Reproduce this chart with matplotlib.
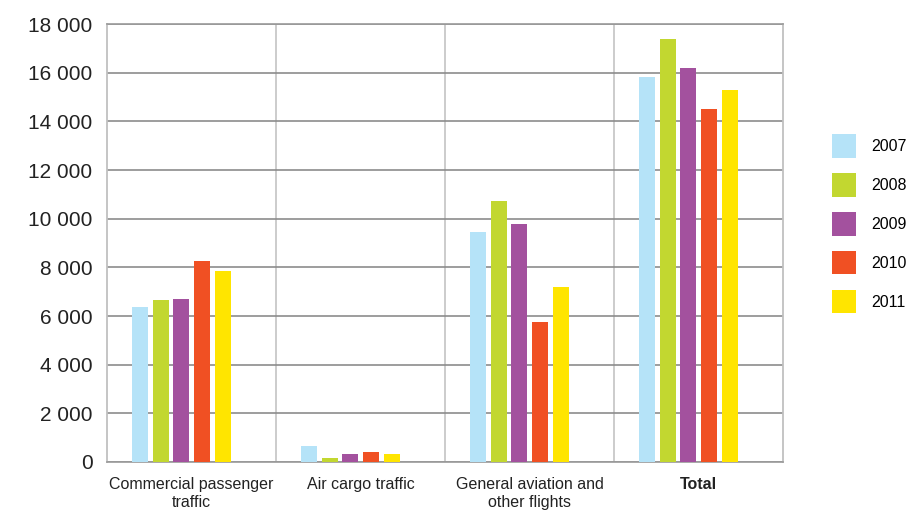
import numpy as np
import matplotlib.pyplot as plt
from matplotlib.ticker import FuncFormatter

plt.rcParams['font.family'] = ['Liberation Sans', 'DejaVu Sans']

# data
categories = ["Commercial passenger\ntraffic", "Air cargo traffic",
              "General aviation and\nother flights", "Total"]
years = ["2007", "2008", "2009", "2010", "2011"]
v2007 = [6380, 640, 9450, 15810]
v2008 = [6650, 150, 10720, 17370]
v2009 = [6690, 310, 9780, 16180]
v2010 = [8260, 400, 5750, 14500]
v2011 = [7840, 310, 7190, 15280]
series = [v2007, v2008, v2009, v2010, v2011]
colors = ["#B5E3F8", "#C2D730", "#A3519E", "#F05023", "#FFE500"]

fig = plt.figure(figsize=(9.06, 5.11), dpi=100)
ax = fig.add_axes([0.1181, 0.0959, 0.7461, 0.857])

x = np.arange(len(categories))
slot = 0.122
width = 0.095
shift = -0.06
for j, (vals, col, yr) in enumerate(zip(series, colors, years)):
    ax.bar(x + shift + (j - 2) * slot, vals, width, color=col, label=yr, zorder=3)

ax.set_xlim(-0.5, 3.5)
ax.set_ylim(0, 18000)
ax.set_yticks(np.arange(0, 18001, 2000))
ax.yaxis.set_major_formatter(FuncFormatter(lambda v, p: f"{int(v):,}".replace(",", " ")))

# horizontal grid darker, category separators lighter
ax.yaxis.grid(True, color="#8c8c8c", lw=1.2, zorder=0)
for sep in [0.5, 1.5, 2.5]:
    ax.axvline(sep, color="#c8c8c8", lw=1.3, zorder=0)

for side in ["left", "right"]:
    ax.spines[side].set_color("#c0c0c0")
    ax.spines[side].set_linewidth(1.3)
ax.spines["top"].set_color("#9a9a9a")
ax.spines["top"].set_linewidth(1.2)
ax.spines["bottom"].set_color("#9a9a9a")
ax.spines["bottom"].set_linewidth(1.2)

ax.set_xticks(x)
ax.set_xticklabels(categories, fontsize=11.5, color="#222222", linespacing=1.25)
ax.get_xticklabels()[3].set_fontweight("bold")
ax.tick_params(axis="x", length=0, pad=11)
ax.tick_params(axis="y", length=0, pad=10.5, labelsize=15, labelcolor="#222222")

fig.legend(loc="center left", bbox_to_anchor=(0.918, 0.562), frameon=False,
           fontsize=11.5, handlelength=1.5, handleheight=1.9,
           handletextpad=1.0, labelspacing=0.95, borderpad=0, borderaxespad=0)

fig.savefig("out.png", dpi=100)
